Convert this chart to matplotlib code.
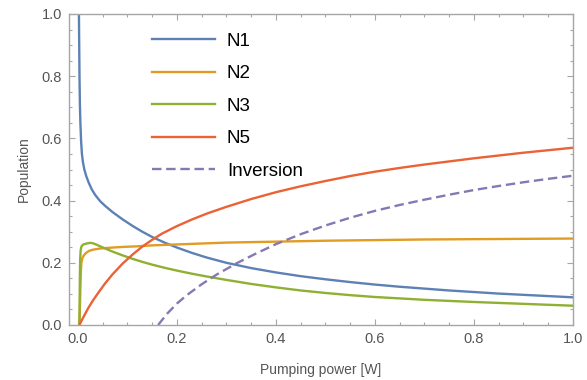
import matplotlib
matplotlib.use("Agg")
import matplotlib.pyplot as plt
from matplotlib.ticker import MultipleLocator, FormatStrFormatter

plt.rcParams['font.family'] = ['Liberation Sans', 'DejaVu Sans']

# values (pumping power in W, population)
n1_x = [0.0018, 0.0025, 0.0032, 0.004, 0.005, 0.0065, 0.008, 0.01, 0.013, 0.017, 0.022,
        0.028, 0.035, 0.045, 0.055, 0.07, 0.09, 0.11, 0.13, 0.15, 0.175, 0.2, 0.23, 0.26,
        0.3, 0.35, 0.4, 0.45, 0.5, 0.55, 0.6, 0.65, 0.7, 0.75, 0.8, 0.85, 0.9, 0.95, 1.0]
n1_y = [1.05, 0.92, 0.8, 0.71, 0.65, 0.59, 0.552, 0.525, 0.5, 0.478, 0.457,
        0.436, 0.418, 0.398, 0.383, 0.363, 0.34, 0.319, 0.3, 0.283, 0.265, 0.249, 0.232, 0.217,
        0.2, 0.183, 0.169, 0.157, 0.147, 0.138, 0.13, 0.123, 0.117, 0.111, 0.106, 0.101, 0.097, 0.093, 0.089]

n2_x = [0.003, 0.004, 0.005, 0.006, 0.007, 0.009, 0.012, 0.016, 0.022, 0.03, 0.045,
        0.06, 0.09, 0.12, 0.15, 0.2, 0.25, 0.3, 0.4, 0.5, 0.6, 0.7, 0.8, 0.9, 1.0]
n2_y = [0.0, 0.05, 0.12, 0.17, 0.2, 0.215, 0.224, 0.231, 0.238, 0.242, 0.246,
        0.248, 0.251, 0.253, 0.256, 0.259, 0.262, 0.265, 0.268, 0.271, 0.273, 0.275, 0.276, 0.277, 0.278]

n3_x = [0.003, 0.0035, 0.004, 0.0045, 0.0055, 0.007, 0.01, 0.015, 0.02, 0.025, 0.03,
        0.035, 0.045, 0.055, 0.07, 0.09, 0.11, 0.13, 0.15, 0.175, 0.2, 0.23, 0.26, 0.3,
        0.35, 0.4, 0.45, 0.5, 0.55, 0.6, 0.7, 0.8, 0.9, 1.0]
n3_y = [0.0, 0.08, 0.16, 0.21, 0.24, 0.252, 0.258, 0.261, 0.263, 0.264, 0.263,
        0.26, 0.253, 0.246, 0.236, 0.224, 0.213, 0.203, 0.194, 0.184, 0.175, 0.165, 0.156, 0.145,
        0.132, 0.121, 0.111, 0.103, 0.096, 0.09, 0.081, 0.074, 0.068, 0.062]

n5_x = [0.003, 0.01, 0.02, 0.03, 0.04, 0.055, 0.07, 0.09, 0.11, 0.13, 0.15, 0.17, 0.2,
        0.23, 0.26, 0.3, 0.35, 0.4, 0.45, 0.5, 0.55, 0.6, 0.65, 0.7, 0.75, 0.8, 0.85,
        0.9, 0.95, 1.0]
n5_y = [0.0, 0.022, 0.052, 0.078, 0.101, 0.134, 0.163, 0.197, 0.226, 0.252, 0.274, 0.294, 0.318,
        0.339, 0.358, 0.38, 0.405, 0.427, 0.446, 0.463, 0.479, 0.493, 0.505, 0.516, 0.526, 0.536, 0.545,
        0.554, 0.562, 0.570]

inv_x = [0.162, 0.18, 0.2, 0.22, 0.25, 0.28, 0.32, 0.36, 0.4, 0.45, 0.5, 0.55, 0.6,
         0.65, 0.7, 0.75, 0.8, 0.85, 0.9, 0.95, 1.0]
inv_y = [0.0, 0.036, 0.069, 0.096, 0.131, 0.162, 0.198, 0.23, 0.26, 0.292, 0.32, 0.345, 0.367,
         0.386, 0.403, 0.419, 0.434, 0.447, 0.459, 0.47, 0.48]

labels = ['N1', 'N2', 'N3', 'N5', 'Inversion']
colors = ['#5e81b5', '#e19c24', '#8fb032', '#eb6235', '#8778b3']

fig = plt.figure(figsize=(5.87, 3.8), dpi=100)
ax = fig.add_axes([69 / 587, 1 - 325 / 380, (573 - 69) / 587, (325 - 14) / 380])

series = [(n1_x, n1_y), (n2_x, n2_y), (n3_x, n3_y), (n5_x, n5_y)]
for (xs, ys), lab, c in zip(series, labels[:4], colors[:4]):
    ax.plot(xs, ys, color=c, lw=1.7, label=lab)
ax.plot(inv_x, inv_y, color=colors[4], lw=1.7, label=labels[4], dashes=(4.0, 2.0))

ax.set_xlim(-0.018, 1.0)
ax.set_ylim(0, 1.0)

gray = '#a6a6a6'
for s in ax.spines.values():
    s.set_color(gray)
    s.set_linewidth(1.0)
ax.xaxis.set_major_locator(MultipleLocator(0.2))
ax.xaxis.set_minor_locator(MultipleLocator(0.05))
ax.yaxis.set_major_locator(MultipleLocator(0.2))
ax.yaxis.set_minor_locator(MultipleLocator(0.05))
ax.xaxis.set_major_formatter(FormatStrFormatter('%.1f'))
ax.yaxis.set_major_formatter(FormatStrFormatter('%.1f'))
ax.tick_params(which='both', direction='in', top=True, right=True, color=gray, width=0.8)
ax.tick_params(which='major', length=4.5, labelsize=10.5, labelcolor='#555555', pad=5)
ax.tick_params(which='minor', length=2.5)

ax.set_xlabel('Pumping power [W]', fontsize=10, color='#555555', labelpad=12)
ax.set_ylabel('Population', fontsize=10, color='#555555', labelpad=8)

ax.legend(loc='upper left', bbox_to_anchor=(0.1496, 0.9645), frameon=False,
          fontsize=13.5, handlelength=3.36, handletextpad=0.64, labelspacing=0.82,
          borderaxespad=0)

fig.savefig('out.png', dpi=100)
